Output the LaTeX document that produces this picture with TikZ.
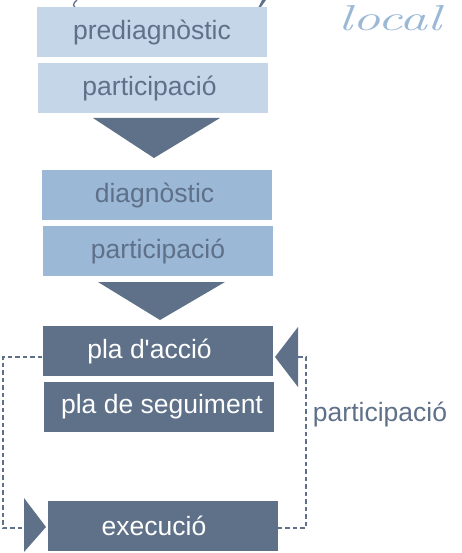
\documentclass[tikz,border=0pt]{standalone}
\usepackage{fontspec}
\usepackage{xcolor}
\usepackage{graphicx}
\newfontfamily\boxfont{Liberation Sans}
\usetikzlibrary{positioning}
\definecolor{paleblue}{HTML}{C6D6E9}
\definecolor{midblue}{HTML}{9BB8D6}
\definecolor{slate}{HTML}{5F7089}

\begin{document}
\begin{tikzpicture}[
    x=1pt, y=-1pt,
    stage/.style={rectangle, minimum width=230pt, minimum height=50pt, inner sep=0pt, font=\boxfont\fontsize{26.5}{30}\selectfont},
    pale/.style={stage, fill=paleblue, text=slate},
    mid/.style={stage, fill=midblue, text=slate},
    dark/.style={stage, fill=slate, text=white},
    funnel/.style={fill=slate},
    loopline/.style={draw=slate, line width=2.1pt, dash pattern=on 4.5pt off 3pt}
]
\useasboundingbox (0,0) rectangle (461,553);

% Top fragments
\draw[slate, line width=1.3pt] (77,0) .. controls (72,5) .. (79,11);
\fill[slate] (266,0) -- (262,0) -- (253,18) -- cycle;
\node[font=\itshape\fontsize{36}{36}\selectfont, text=midblue, anchor=base, inner sep=0pt] (local) at (390,31) {\scalebox{1.55}[1]{local}};

% Prediagnostic stage
\node[pale] (prediag) at (152,32) {prediagnòstic};
\node[pale] (prepart) at (153,88) {\hspace*{-7pt}participació};
\fill[funnel] (93,118) -- (220,118) -- (154,158) -- cycle;

% Diagnostic stage
\node[mid] (diag) at (157,195) {\hspace*{-5pt}diagnòstic};
\node[mid] (diagpart) at (158,251) {participació};
\fill[funnel] (98,282) -- (225,282) -- (160,320) -- cycle;

% Action stage
\node[dark] (plan) at (157.5,351) {\hspace*{-16pt}pla d'acció};
\node[dark] (follow) at (158.5,407) {\hspace*{7pt}pla de seguiment};
\node[dark] (exec) at (162.5,526) {\hspace*{-17pt}execució};

% Loop arrows
\coordinate (leftIn) at (24,528);
\coordinate (rightIn) at (298,357);
\fill[funnel] (24,498) -- (46,527) -- (24,552) -- cycle;
\fill[funnel] (298,327) -- (275,357) -- (298,387) -- cycle;
\draw[loopline] (plan.west |- rightIn) -- (3,357) |- (leftIn);
\draw[loopline] (exec.east |- leftIn) -- (306,528) |- (rightIn);

% Annotation
\node[font=\boxfont\fontsize{26.5}{30}\selectfont, text=slate] (looppart) at (380,414) {participació};

\end{tikzpicture}
\end{document}
